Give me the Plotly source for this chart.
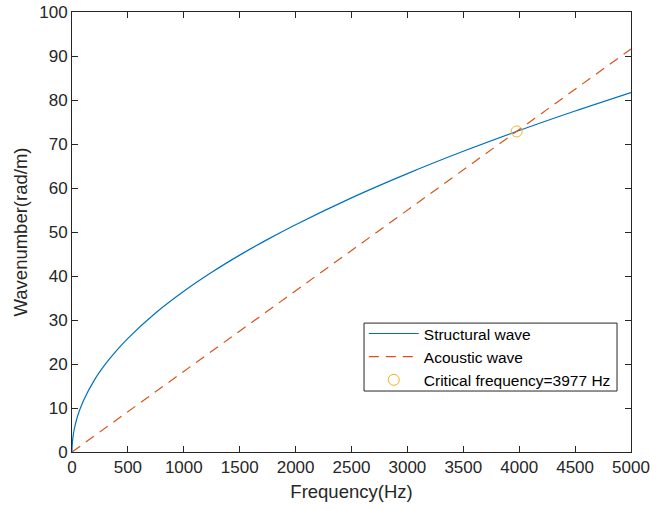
import plotly.graph_objects as go

# Data
freq_struct = [0, 1, 5, 10, 20, 50, 100, 200, 300, 400, 500, 750, 1000, 1250, 1500,
               1750, 2000, 2500, 3000, 3500, 4000, 4500, 5000]
k_struct = [0, 1.16, 2.58, 3.65, 5.17, 8.17, 11.55, 16.34, 20.01, 23.10, 25.83, 31.64,
            36.53, 40.84, 44.74, 48.33, 51.66, 57.76, 63.27, 68.34, 73.06, 77.49, 81.69]
freq_acoustic = [0, 5000]
k_acoustic = [0, 91.6]
crit_freq = [3977]
crit_k = [72.85]

x_ticks = [0, 500, 1000, 1500, 2000, 2500, 3000, 3500, 4000, 4500, 5000]
y_ticks = [0, 10, 20, 30, 40, 50, 60, 70, 80, 90, 100]

FONT = "Liberation Sans, Arial, sans-serif"

fig = go.Figure()
fig.add_trace(go.Scatter(x=freq_struct, y=k_struct, mode="lines", name="Structural wave",
                         line=dict(color="#0072BD", width=1.2, shape="spline")))
fig.add_trace(go.Scatter(x=freq_acoustic, y=k_acoustic, mode="lines", name="Acoustic wave",
                         line=dict(color="#D95319", width=1.2, dash="10px,7px")))
fig.add_trace(go.Scatter(x=crit_freq, y=crit_k, mode="markers",
                         name="Critical frequency=3977 Hz",
                         marker=dict(symbol="circle-open", size=11, color="#EDB120",
                                     line=dict(width=1))))

axis_common = dict(showgrid=False, zeroline=False, showline=True, linecolor="#262626",
                   linewidth=1, mirror="allticks", ticks="inside", ticklen=6,
                   tickcolor="#262626", automargin=False,
                   tickfont=dict(family=FONT, size=17, color="#262626"))

fig.update_xaxes(range=[0, 5000], tickvals=x_ticks,
                 title=dict(text="Frequency(Hz)", font=dict(family=FONT, size=18.5, color="#262626"),
                            standoff=8),
                 **axis_common)
fig.update_yaxes(range=[0, 100], tickvals=y_ticks,
                 title=dict(text="Wavenumber(rad/m)", font=dict(family=FONT, size=18.5, color="#262626"),
                            standoff=6),
                 **axis_common)

# legend frame (MATLAB-style tight box)
fig.add_shape(type="rect", xref="paper", yref="paper",
              x0=0.5224, x1=0.975, y0=0.1386, y1=0.293,
              fillcolor="white", line=dict(color="#262626", width=1), layer="above")

fig.update_layout(
    width=650, height=510,
    margin=dict(l=72, r=19, t=12, b=58),
    paper_bgcolor="white", plot_bgcolor="white",
    font=dict(family=FONT, color="#262626"),
    showlegend=True,
    legend=dict(x=0.522, y=0.307, xanchor="left", yanchor="top",
                bgcolor="rgba(0,0,0,0)", borderwidth=0,
                font=dict(family=FONT, size=15.5, color="#000000"),
                tracegroupgap=0, itemwidth=50),
)

fig.write_html("out.html")
